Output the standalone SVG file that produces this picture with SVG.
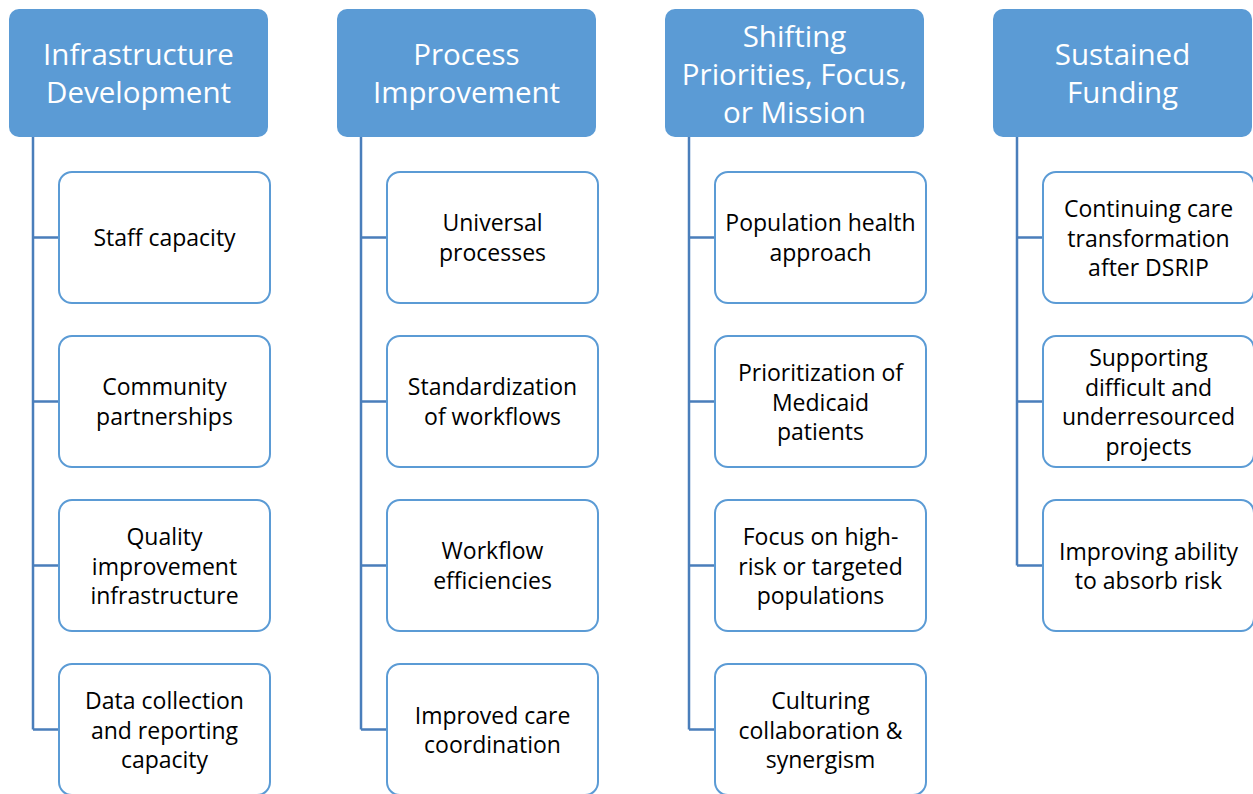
<svg xmlns="http://www.w3.org/2000/svg" width="1253" height="794" viewBox="0 0 1253 794">
<style>
.hd{fill:#5B9BD5;}
.ht{fill:#FFFFFF;font-family:"Open Sans",sans-serif;font-size:29.5px;text-anchor:middle;dominant-baseline:central;}
.ch{fill:#FFFFFF;stroke:#5B9BD5;stroke-width:2;}
.ct{fill:#000000;font-family:"Open Sans",sans-serif;font-size:23px;text-anchor:middle;dominant-baseline:central;}
.cn{fill:none;stroke:#4A7EBB;stroke-width:2.5;}
</style>
<rect width="1253" height="794" fill="#FFFFFF"/>
<g id="connectors">
<path class="cn" d="M33,137V729.5M33,237.5H59M33,401.5H59M33,565.5H59M33,729.5H59"/>
<path class="cn" d="M361,137V729.5M361,237.5H387M361,401.5H387M361,565.5H387M361,729.5H387"/>
<path class="cn" d="M689,137V729.5M689,237.5H715M689,401.5H715M689,565.5H715M689,729.5H715"/>
<path class="cn" d="M1017,137V565.5M1017,237.5H1043M1017,401.5H1043M1017,565.5H1043"/>
</g>
<g id="h1"><rect class="hd" x="9" y="9" width="259" height="128" rx="10"/><text class="ht" x="138.5"><tspan x="138.5" y="53">Infrastructure</tspan><tspan x="138.5" y="91">Development</tspan></text></g>
<g id="h2"><rect class="hd" x="337" y="9" width="259" height="128" rx="10"/><text class="ht"><tspan x="466.5" y="53">Process</tspan><tspan x="466.5" y="91">Improvement</tspan></text></g>
<g id="h3"><rect class="hd" x="665" y="9" width="259" height="128" rx="10"/><text class="ht"><tspan x="794.5" y="35">Shifting</tspan><tspan x="794.5" y="73">Priorities, Focus,</tspan><tspan x="794.5" y="111">or Mission</tspan></text></g>
<g id="h4"><rect class="hd" x="993" y="9" width="259" height="128" rx="10"/><text class="ht"><tspan x="1122.5" y="53">Sustained</tspan><tspan x="1122.5" y="91">Funding</tspan></text></g>

<g id="c1a"><rect class="ch" x="59" y="172" width="211" height="131" rx="13"/><text class="ct"><tspan x="164.5" y="237">Staff capacity</tspan></text></g>
<g id="c1b"><rect class="ch" x="59" y="336" width="211" height="131" rx="13"/><text class="ct"><tspan x="164.5" y="386">Community</tspan><tspan x="164.5" y="415.5">partnerships</tspan></text></g>
<g id="c1c"><rect class="ch" x="59" y="500" width="211" height="131" rx="13"/><text class="ct"><tspan x="164.5" y="536">Quality</tspan><tspan x="164.5" y="565.5">improvement</tspan><tspan x="164.5" y="595">infrastructure</tspan></text></g>
<g id="c1d"><rect class="ch" x="59" y="664" width="211" height="131" rx="13"/><text class="ct"><tspan x="164.5" y="700">Data collection</tspan><tspan x="164.5" y="729.5">and reporting</tspan><tspan x="164.5" y="759">capacity</tspan></text></g>

<g id="c2a"><rect class="ch" x="387" y="172" width="211" height="131" rx="13"/><text class="ct"><tspan x="492.5" y="222">Universal</tspan><tspan x="492.5" y="251.5">processes</tspan></text></g>
<g id="c2b"><rect class="ch" x="387" y="336" width="211" height="131" rx="13"/><text class="ct"><tspan x="492.5" y="386">Standardization</tspan><tspan x="492.5" y="415.5">of workflows</tspan></text></g>
<g id="c2c"><rect class="ch" x="387" y="500" width="211" height="131" rx="13"/><text class="ct"><tspan x="492.5" y="550">Workflow</tspan><tspan x="492.5" y="579.5">efficiencies</tspan></text></g>
<g id="c2d"><rect class="ch" x="387" y="664" width="211" height="131" rx="13"/><text class="ct"><tspan x="492.5" y="715">Improved care</tspan><tspan x="492.5" y="744">coordination</tspan></text></g>

<g id="c3a"><rect class="ch" x="715" y="172" width="211" height="131" rx="13"/><text class="ct"><tspan x="820.5" y="222">Population health</tspan><tspan x="820.5" y="251.5">approach</tspan></text></g>
<g id="c3b"><rect class="ch" x="715" y="336" width="211" height="131" rx="13"/><text class="ct"><tspan x="820.5" y="372">Prioritization of</tspan><tspan x="820.5" y="401.5">Medicaid</tspan><tspan x="820.5" y="431">patients</tspan></text></g>
<g id="c3c"><rect class="ch" x="715" y="500" width="211" height="131" rx="13"/><text class="ct"><tspan x="820.5" y="536">Focus on high-</tspan><tspan x="820.5" y="565.5">risk or targeted</tspan><tspan x="820.5" y="595">populations</tspan></text></g>
<g id="c3d"><rect class="ch" x="715" y="664" width="211" height="131" rx="13"/><text class="ct"><tspan x="820.5" y="700">Culturing</tspan><tspan x="820.5" y="729.5">collaboration &amp;</tspan><tspan x="820.5" y="759">synergism</tspan></text></g>

<g id="c4a"><rect class="ch" x="1043" y="172" width="211" height="131" rx="13"/><text class="ct"><tspan x="1148.5" y="208">Continuing care</tspan><tspan x="1148.5" y="237.5">transformation</tspan><tspan x="1148.5" y="267">after DSRIP</tspan></text></g>
<g id="c4b"><rect class="ch" x="1043" y="336" width="211" height="131" rx="13"/><text class="ct"><tspan x="1148.5" y="357">Supporting</tspan><tspan x="1148.5" y="386.5">difficult and</tspan><tspan x="1148.5" y="416">underresourced</tspan><tspan x="1148.5" y="445.5">projects</tspan></text></g>
<g id="c4c"><rect class="ch" x="1043" y="500" width="211" height="131" rx="13"/><text class="ct"><tspan x="1148.5" y="551">Improving ability</tspan><tspan x="1148.5" y="580">to absorb risk</tspan></text></g>
</svg>
